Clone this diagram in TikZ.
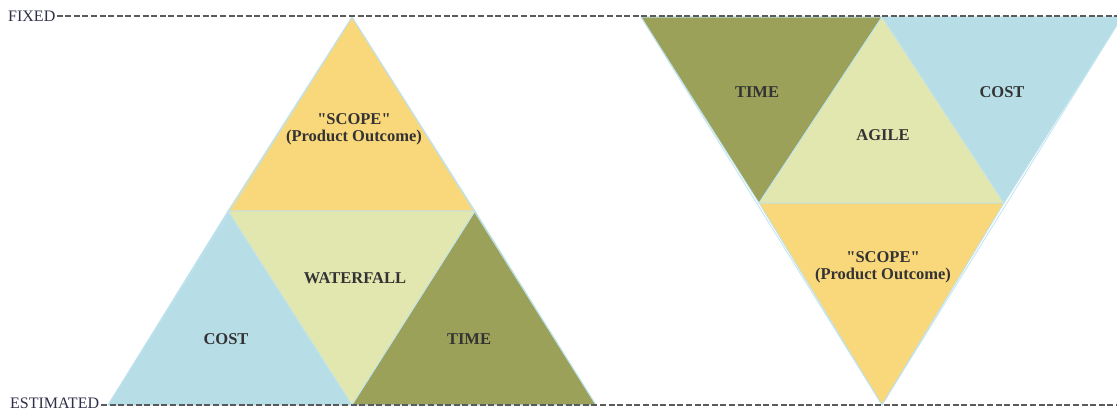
\documentclass[tikz,border=0pt]{standalone}
\usepackage{fontspec}
\setmainfont{Liberation Serif}[Ligatures=TeXOff]
\definecolor{scopeY}{HTML}{F9D77B}
\definecolor{methodG}{HTML}{E2E6AF}
\definecolor{costB}{HTML}{B7DDE7}
\definecolor{timeO}{HTML}{9CA15A}
\definecolor{edgeB}{HTML}{BFE3EE}
\definecolor{labelC}{HTML}{333333}
\definecolor{guideC}{HTML}{5A5A5A}
\tikzset{
  tri/.style={draw=edgeB, line width=0.8pt, line join=round},
  lbl/.style={font=\fontsize{16.5}{17}\selectfont\bfseries, text=labelC, align=center, inner sep=0pt},
  axis/.style={font=\fontsize{16}{18}\selectfont, text=labelC!90!blue, inner sep=0pt},
  guide/.style={draw=guideC, line width=1.2pt, dash pattern=on 6pt off 2.6pt},
}
\begin{document}
\begin{tikzpicture}[x=1pt,y=1pt]
\useasboundingbox (0,0) rectangle (1117,411);
\clip (0,0) rectangle (1117,411);

% waterfall: upright triangle
\coordinate (wA)  at (352,394);
\coordinate (wML) at (228,200);
\coordinate (wMR) at (475,200);
\coordinate (wBL) at (108,6);
\coordinate (wBM) at (352,6);
\coordinate (wBR) at (596,6);
\fill[tri, fill=scopeY]  (wA) -- (wML) -- (wMR) -- cycle;
\fill[tri, fill=costB]   (wML) -- (wBL) -- (wBM) -- cycle;
\fill[tri, fill=timeO]   (wMR) -- (wBM) -- (wBR) -- cycle;
\fill[tri, fill=methodG] (wML) -- (wMR) -- (wBM) -- cycle;
\draw[tri] (wA) -- (wBL) -- (wBR) -- cycle;

% agile: inverted triangle
\coordinate (aTL) at (641,394);
\coordinate (aTM) at (882,394);
\coordinate (aTR) at (1122,394);
\coordinate (aML) at (759,208);
\coordinate (aMR) at (1004,208);
\coordinate (aB)  at (882,6);
\fill[tri, fill=timeO]   (aTL) -- (aTM) -- (aML) -- cycle;
\fill[tri, fill=costB]   (aTM) -- (aTR) -- (aMR) -- cycle;
\fill[tri, fill=scopeY]  (aML) -- (aMR) -- (aB) -- cycle;
\fill[tri, fill=methodG] (aTM) -- (aML) -- (aMR) -- cycle;
\draw[tri] (aTL) -- (aTR) -- (aB) -- cycle;

% labels
\node[lbl] (wscope) at (354,282) {"SCOPE"\\(Product Outcome)};
\node[lbl] (wmeth)  at (355,133) {WATERFALL};
\node[lbl] (wcost)  at (226,72)  {COST};
\node[lbl] (wtime)  at (469,72)  {TIME};
\node[lbl] (atime)  at (757,319) {TIME};
\node[lbl] (ameth)  at (883,276) {AGILE};
\node[lbl] (acost)  at (1002,319) {COST};
\node[lbl] (ascope) at (883,144) {"SCOPE"\\(Product Outcome)};

% fixed / estimated guides
\node[axis, anchor=west] (fixed) at (8,395) {FIXED};
\node[axis, anchor=west] (est)   at (10,7.5) {ESTIMATED};
\coordinate (fixedEnd) at (1117,395);
\coordinate (estEnd)   at (1117,6);
\draw[guide] (fixed.east) ++(1,0) -- (fixedEnd);
\draw[guide] (est.east) ++(2,-1.5) -- (estEnd);
\end{tikzpicture}
\end{document}
